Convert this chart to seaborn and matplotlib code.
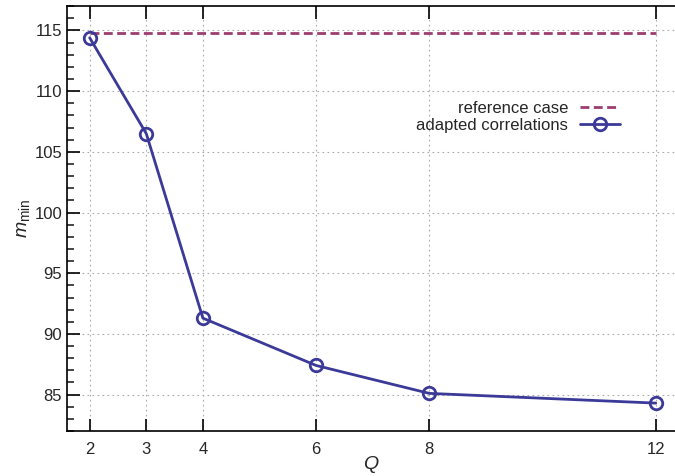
import matplotlib
matplotlib.use("Agg")
import matplotlib.pyplot as plt
import pandas as pd
import seaborn as sns
from matplotlib.ticker import MultipleLocator

# data
q_values = [2, 3, 4, 6, 8, 12]
m_min = [114.4, 106.5, 91.3, 87.4, 85.1, 84.3]
ref_q = [2, 12]
ref_m = [114.75, 114.75]

adapted = pd.DataFrame({'Q': q_values, 'm': m_min})
reference = pd.DataFrame({'Q': ref_q, 'm': ref_m})

sns.set_style('ticks')
plt.rcParams['font.family'] = ['Liberation Sans', 'DejaVu Sans']
plt.rcParams['mathtext.fontset'] = 'custom'
plt.rcParams['mathtext.rm'] = 'Liberation Sans'
plt.rcParams['mathtext.it'] = 'Liberation Sans:italic'

fig = plt.figure(figsize=(6.75, 4.76), dpi=100)
ax = fig.add_axes([0.0993, 0.0945, 0.9007, 0.8925])

sns.lineplot(x='Q', y='m', data=reference, ax=ax, color='#9a3d70',
             linestyle=(0, (3.2, 1.6)), linewidth=2, label='reference case')
sns.lineplot(x='Q', y='m', data=adapted, ax=ax, color='#3b3a98',
             linewidth=2, marker='o', markersize=9, markerfacecolor='none',
             markeredgecolor='#3b3a98', markeredgewidth=2,
             label='adapted correlations')

ax.set_xlim(1.6, 12.34)
ax.set_ylim(82, 117)
ax.set_xticks(q_values)
ax.yaxis.set_major_locator(MultipleLocator(5))
ax.yaxis.set_minor_locator(MultipleLocator(1))
ax.tick_params(axis='both', which='major', direction='in', length=9, width=1.2,
               labelsize=12, top=True, right=False, color='black')
ax.tick_params(axis='y', which='minor', direction='in', length=5, width=1.2,
               right=False)
ax.tick_params(axis='x', pad=8)
ax.grid(True, which='major', color='#aaaaaa', linestyle=(0, (1.5, 3)),
        linewidth=0.8)
for s in ax.spines.values():
    s.set_linewidth(1.2)
    s.set_color('black')
ax.spines['right'].set_visible(False)

ax.set_xlabel('$Q$', fontsize=14, labelpad=-2)
ax.set_ylabel(r'$m_{\mathrm{min}}$', fontsize=14, labelpad=2)

ax.legend(loc='upper right', bbox_to_anchor=(0.934, 0.813), frameon=False,
          markerfirst=False, fontsize=12, handlelength=2.4,
          handletextpad=0.7, labelspacing=0.15)

fig.savefig('out.png', dpi=100)
